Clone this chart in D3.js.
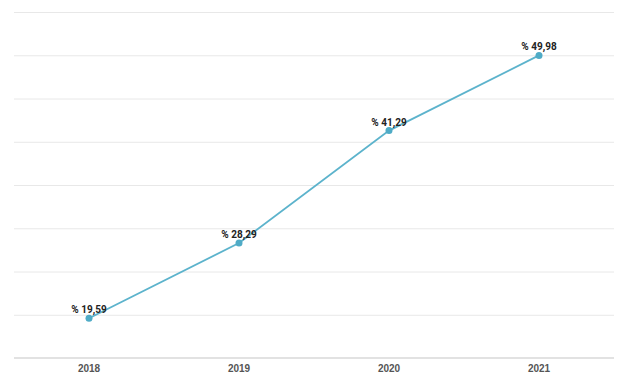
<!DOCTYPE html>
<html>
<head>
<meta charset="utf-8">
<script src="https://cdn.jsdelivr.net/npm/d3@7"></script>
<style>
  body { margin: 0; background: #fff; font-family: Roboto, Arial, sans-serif; }
  .grid line { stroke: #e8e8e8; stroke-width: 1; }
  .grid .domain { display: none; }
  .x-axis .domain, .x-axis line { display: none; }
  .x-axis text { font-size: 10px; font-weight: bold; fill: #555; }
  .value-label { font-size: 10px; font-weight: bold; fill: #222; }
</style>
</head>
<body>
<div id="chart"></div>
<script>
// данные
const years = ['2018', '2019', '2020', '2021'];
const values = [19.59, 28.29, 41.29, 49.98];
const yTicks = [15, 20, 25, 30, 35, 40, 45, 50, 55];

const width = 625, height = 388;
const margin = { top: 12, right: 11, bottom: 30, left: 14 };

const svg = d3.select('#chart').append('svg')
  .attr('width', width)
  .attr('height', height);

const x = d3.scaleBand()
  .domain(years)
  .range([margin.left, width - margin.right]);

const y = d3.scaleLinear()
  .domain([15, 55])
  .range([height - margin.bottom, margin.top]);

// сетка
svg.append('g')
  .attr('class', 'grid')
  .attr('transform', `translate(${margin.left},0)`)
  .call(d3.axisLeft(y).tickValues(yTicks).tickSize(-(width - margin.left - margin.right)).tickFormat(''));

// нижняя линия
svg.append('line')
  .attr('x1', margin.left)
  .attr('x2', width - margin.right)
  .attr('y1', y(15))
  .attr('y2', y(15))
  .attr('stroke', '#e2e2e2')
  .attr('stroke-width', 2);

// ось X
svg.append('g')
  .attr('class', 'x-axis')
  .attr('transform', `translate(0,${y(15) + 2})`)
  .call(d3.axisBottom(x).tickSize(0).tickPadding(5));

const cx = d => x(d) + x.bandwidth() / 2;

// линия
const line = d3.line()
  .x((d, i) => cx(years[i]))
  .y(d => y(d));

svg.append('path')
  .datum(values)
  .attr('fill', 'none')
  .attr('stroke', '#5cb3cc')
  .attr('stroke-width', 1.8)
  .attr('d', line);

// точки
svg.selectAll('.dot')
  .data(values)
  .enter()
  .append('circle')
  .attr('class', 'dot')
  .attr('cx', (d, i) => cx(years[i]))
  .attr('cy', d => y(d))
  .attr('r', 3.5)
  .attr('fill', '#4fabc6');

// подписи значений
svg.selectAll('.value-label')
  .data(values)
  .enter()
  .append('text')
  .attr('class', 'value-label')
  .attr('x', (d, i) => cx(years[i]))
  .attr('y', d => y(d) - 5)
  .attr('text-anchor', 'middle')
  .text(d => '% ' + d.toFixed(2).replace('.', ','));
</script>
</body>
</html>
